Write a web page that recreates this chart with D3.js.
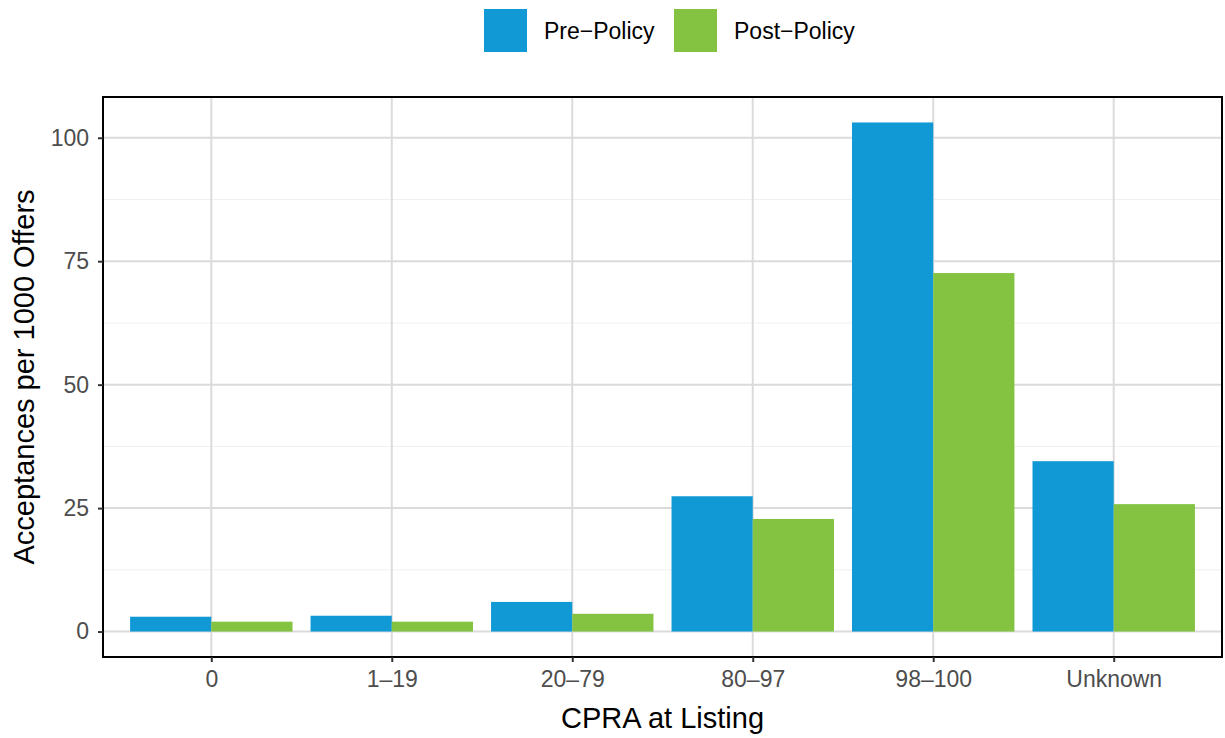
<!DOCTYPE html>
<html><head><meta charset="utf-8">
<script src="https://cdn.jsdelivr.net/npm/d3@7"></script>
<style>body{margin:0;background:#fff;} text{font-family:"Liberation Sans",Arial,sans-serif;}</style>
</head><body><svg id="c" width="1225" height="738"></svg>
<script>
const categories = ["0","1\u201319","20\u201379","80\u201397","98\u2013100","Unknown"];
const seriesNames = ["Pre\u2212Policy","Post\u2212Policy"];
const preValues = [3.0, 3.2, 6.0, 27.4, 103.1, 34.5];
const postValues = [2.0, 2.0, 3.6, 22.8, 72.6, 25.8];
const yTicks = [0, 25, 50, 75, 100];
const yMinor = [12.5, 37.5, 62.5, 87.5];
const colors = ["#1199d6", "#83c341"];

const svg = d3.select("#c");
const L = 103, R = 1222, T = 97, B = 657;
const maxV = d3.max(preValues.concat(postValues));
const y = d3.scaleLinear().domain([-0.05*maxV, maxV*1.05]).range([B, T]);
// ggplot discrete expand 0.6 -> emulate via point scale
const step = (R - L) / (categories.length - 1 + 1.2);
const xc = d3.scalePoint().domain(categories).range([L + 0.6*step, R - 0.6*step]);
const bw = step * 0.9 / 2;

// minor grid
svg.append("g").selectAll("line").data(yMinor).join("line")
  .attr("x1", L).attr("x2", R).attr("y1", d => y(d)).attr("y2", d => y(d))
  .attr("stroke", "#f0f0f0").attr("stroke-width", 1);
// major grid
svg.append("g").selectAll("line").data(yTicks).join("line")
  .attr("x1", L).attr("x2", R).attr("y1", d => y(d)).attr("y2", d => y(d))
  .attr("stroke", "#dbdbdb").attr("stroke-width", 2);
svg.append("g").selectAll("line").data(categories).join("line")
  .attr("x1", d => xc(d)).attr("x2", d => xc(d)).attr("y1", T).attr("y2", B)
  .attr("stroke", "#dbdbdb").attr("stroke-width", 2);

// bars
const data = categories.map((c, i) => ({c, vals: [preValues[i], postValues[i]]}));
const g = svg.append("g");
data.forEach(d => {
  d.vals.forEach((v, j) => {
    g.append("rect")
      .attr("x", xc(d.c) - bw + j*bw)
      .attr("width", bw)
      .attr("y", y(v))
      .attr("height", y(0) - y(v))
      .attr("fill", colors[j]);
  });
});

// panel border
svg.append("rect").attr("x", L).attr("y", T).attr("width", R - L).attr("height", B - T)
  .attr("fill", "none").attr("stroke", "#000").attr("stroke-width", 2);

// axes
const yAxis = d3.axisLeft(y).tickValues(yTicks).tickSize(5).tickPadding(9);
const ya = svg.append("g").attr("transform", `translate(${L},0)`).call(yAxis);
ya.select(".domain").remove();
ya.selectAll(".tick line").attr("stroke", "#333").attr("stroke-width", 2);
ya.selectAll(".tick text").attr("fill", "#4d4d4d").style("font-size", "23px").style("font-family", "Liberation Sans, Arial, sans-serif");

const xAxis = d3.axisBottom(xc).tickSize(5).tickPadding(9);
const xa = svg.append("g").attr("transform", `translate(0,${B})`).call(xAxis);
xa.select(".domain").remove();
xa.selectAll(".tick line").attr("stroke", "#333").attr("stroke-width", 2);
xa.selectAll(".tick text").attr("fill", "#4d4d4d").style("font-size", "23px").style("font-family", "Liberation Sans, Arial, sans-serif");

// titles
svg.append("text").attr("x", (L + R) / 2).attr("y", 728).attr("text-anchor", "middle")
  .style("font-size", "29px").attr("fill", "#000").text("CPRA at Listing");
svg.append("text").attr("transform", `translate(34,${(T + B) / 2}) rotate(-90)`).attr("text-anchor", "middle")
  .style("font-size", "29px").attr("fill", "#000").text("Acceptances per 1000 Offers");

// legend
const legX = [484, 674];
seriesNames.forEach((s, i) => {
  svg.append("rect").attr("x", legX[i]).attr("y", 9).attr("width", 43).attr("height", 43).attr("fill", colors[i]);
  svg.append("text").attr("x", legX[i] + 60).attr("y", 38.5).style("font-size", "23px").attr("fill", "#000").text(s);
});
</script></body></html>
